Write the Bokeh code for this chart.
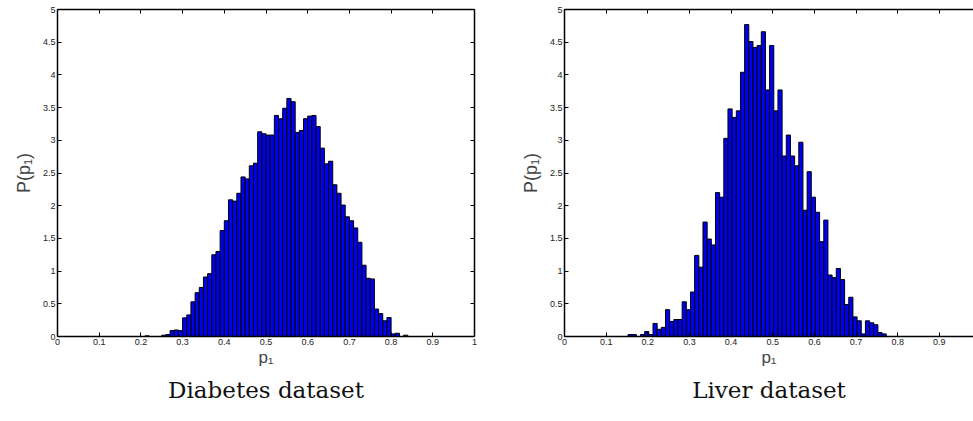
from bokeh.plotting import figure
from bokeh.layouts import row
from bokeh.models import Range1d, FixedTicker, LinearAxis, Title
from bokeh.embed import file_html
from bokeh.resources import INLINE

# ---------------- data ----------------
diabetes_centers = [0.215, 0.255, 0.265, 0.275, 0.285, 0.295, 0.305, 0.315, 0.325, 0.335,
                    0.345, 0.355, 0.365, 0.375, 0.385, 0.395, 0.405, 0.415, 0.425, 0.435,
                    0.445, 0.455, 0.465, 0.475, 0.485, 0.495, 0.505, 0.515, 0.525, 0.535,
                    0.545, 0.555, 0.565, 0.575, 0.585, 0.595, 0.605, 0.615, 0.625, 0.635,
                    0.645, 0.655, 0.665, 0.675, 0.685, 0.695, 0.705, 0.715, 0.725, 0.735,
                    0.745, 0.755, 0.765, 0.775, 0.785, 0.795, 0.805, 0.815, 0.825, 0.835]
diabetes_density = [0.01, 0.02, 0.03, 0.09, 0.10, 0.09, 0.285, 0.33, 0.53, 0.67,
                    0.75, 0.91, 0.96, 1.25, 1.30, 1.62, 1.77, 2.09, 2.07, 2.19,
                    2.44, 2.41, 2.61, 2.65, 3.13, 3.10, 3.08, 3.08, 3.38, 3.33,
                    3.49, 3.64, 3.59, 3.12, 3.15, 3.33, 3.37, 3.38, 3.21, 2.88,
                    2.64, 2.68, 2.32, 2.19, 2.01, 1.83, 1.77, 1.66, 1.44, 1.09,
                    0.89, 0.88, 0.42, 0.35, 0.24, 0.29, 0.04, 0.05, 0.0, 0.02]

liver_centers = [0.1575, 0.1675, 0.1775, 0.1875, 0.1975, 0.2075, 0.2175, 0.2275, 0.2375, 0.2475,
                 0.2575, 0.2675, 0.2775, 0.2875, 0.2975, 0.3075, 0.3175, 0.3275, 0.3375, 0.3475,
                 0.3575, 0.3675, 0.3775, 0.3875, 0.3975, 0.4075, 0.4175, 0.4275, 0.4375, 0.4475,
                 0.4575, 0.4675, 0.4775, 0.4875, 0.4975, 0.5075, 0.5175, 0.5275, 0.5375, 0.5475,
                 0.5575, 0.5675, 0.5775, 0.5875, 0.5975, 0.6075, 0.6175, 0.6275, 0.6375, 0.6475,
                 0.6575, 0.6675, 0.6775, 0.6875, 0.6975, 0.7075, 0.7175, 0.7275, 0.7375, 0.7475,
                 0.7575, 0.7675]
liver_density = [0.03, 0.03, 0.0, 0.03, 0.076, 0.03, 0.20, 0.11, 0.14, 0.41,
                 0.23, 0.26, 0.26, 0.53, 0.41, 0.68, 1.24, 1.06, 1.75, 1.49,
                 1.40, 2.20, 2.13, 3.03, 3.48, 3.35, 3.45, 4.04, 4.77, 4.51,
                 4.42, 4.45, 4.66, 3.77, 4.45, 3.45, 3.77, 2.76, 3.08, 2.76,
                 2.61, 2.97, 1.93, 2.52, 2.13, 1.90, 1.45, 1.78, 0.94, 0.90,
                 1.04, 0.87, 0.49, 0.60, 0.30, 0.24, 0.04, 0.24, 0.21, 0.18,
                 0.06, 0.04]

bin_width = 0.01

x_ticks = [0, 0.1, 0.2, 0.3, 0.4, 0.5, 0.6, 0.7, 0.8, 0.9, 1]
x_tick_labels = ["0", "0.1", "0.2", "0.3", "0.4", "0.5", "0.6", "0.7", "0.8", "0.9", "1"]
y_ticks = [0, 0.5, 1, 1.5, 2, 2.5, 3, 3.5, 4, 4.5, 5]
y_tick_labels = ["0", "0.5", "1", "1.5", "2", "2.5", "3", "3.5", "4", "4.5", "5"]

x_label = "p\u2081"
y_label = "P(p\u2081)"
titles = ["Diabetes dataset", "Liver dataset"]

BAR_FILL = "#0000f0"
SANS = "Liberation Sans"
SERIF = "DejaVu Serif"


def style_axis(ax, ticks, labels, show_labels):
    ax.ticker = FixedTicker(ticks=ticks)
    ax.axis_line_color = "black"
    ax.axis_line_width = 1.5
    ax.major_tick_in = 4
    ax.major_tick_out = 0
    ax.major_tick_line_color = "black"
    ax.major_tick_line_width = 1
    ax.minor_tick_line_color = None
    if show_labels:
        ax.major_label_overrides = {t: l for t, l in zip(ticks, labels)}
        ax.major_label_text_font = SANS
        ax.major_label_text_color = "#222222"
        ax.major_label_text_font_size = "9px"
        ax.major_label_standoff = 2
    else:
        ax.major_label_text_color = None
        ax.major_label_text_font_size = "1px"
        ax.major_label_standoff = 0


def make_panel(centers, density, x_end, title, frame_width, border_left, border_right, title_offset, right_axis):
    p = figure(output_backend="svg", toolbar_location=None,
               frame_width=frame_width, frame_height=327,
               min_border_left=border_left, min_border_right=border_right,
               min_border_top=9, min_border_bottom=85,
               x_range=Range1d(0, x_end), y_range=Range1d(0, 5),
               background_fill_color="white", border_fill_color="white")
    p.outline_line_color = None
    p.xgrid.grid_line_color = None
    p.ygrid.grid_line_color = None

    p.vbar(x=centers, top=density, bottom=0, width=bin_width,
           fill_color=BAR_FILL, line_color="black", line_width=1)

    style_axis(p.xaxis[0], x_ticks, x_tick_labels, True)
    style_axis(p.yaxis[0], y_ticks, y_tick_labels, True)

    p.xaxis[0].axis_label = x_label
    p.xaxis[0].axis_label_text_font = SANS
    p.xaxis[0].axis_label_text_font_size = "17px"
    p.xaxis[0].axis_label_text_font_style = "normal"
    p.xaxis[0].axis_label_standoff = 0

    p.yaxis[0].axis_label = y_label
    p.yaxis[0].axis_label_text_font = SANS
    p.yaxis[0].axis_label_text_font_size = "18px"
    p.yaxis[0].axis_label_text_font_style = "normal"
    p.yaxis[0].axis_label_standoff = 6

    top_ax = LinearAxis()
    style_axis(top_ax, x_ticks, x_tick_labels, False)
    p.add_layout(top_ax, "above")

    if right_axis:
        r_ax = LinearAxis()
        style_axis(r_ax, y_ticks, y_tick_labels, False)
        p.add_layout(r_ax, "right")

    t = Title(text=title, align="center", text_font=SERIF, text_font_size="23px",
              text_font_style="normal", text_color="#111111", offset=title_offset,
              standoff=10)
    p.add_layout(t, "below")
    return p


left = make_panel(diabetes_centers, diabetes_density, 1.0, titles[0], 417, 57, 20, -29, True)
right = make_panel(liver_centers, liver_density, 0.982, titles[1], 409, 70, 0, -18, False)

layout = row(left, right, spacing=0)

open("out.html", "w").write(file_html(layout, INLINE))
